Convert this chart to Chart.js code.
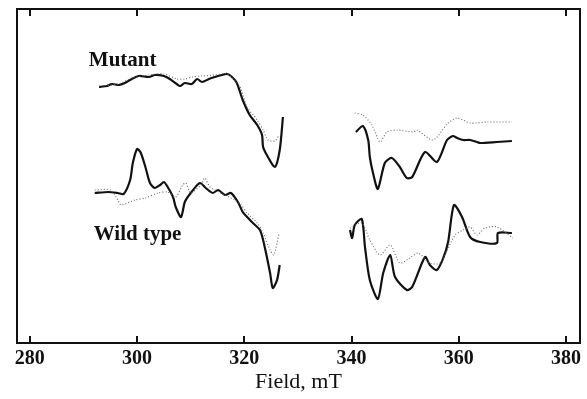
<!DOCTYPE html>
<html>
<head>
<meta charset="utf-8">
<script src="https://cdn.jsdelivr.net/npm/chart.js@4/dist/chart.umd.min.js"></script>
<style>
  html, body { margin: 0; padding: 0; background: #fff; }
  #wrap { width: 587px; height: 399px; }
</style>
</head>
<body>
<div id="wrap"><canvas id="eprChart" width="587" height="399"></canvas></div>
<script>
var eprCanv = document.getElementById("eprChart");

// field axis (mT)
var xTicks = [280, 300, 320, 340, 360, 380];

// Mutant, low-field part
var mutLeftField = [292.9, 294.4, 295.3, 296.6, 297.7, 299.0, 300.3, 302.2, 303.3, 305.0, 306.1, 307.4, 308.0, 308.9, 310.2, 311.2, 312.1, 313.4, 314.5, 315.8, 316.8, 317.7, 318.6, 319.7, 321.0, 322.4, 323.3, 323.5, 324.4, 325.7, 326.6, 327.2];
var mutLeftSolid = [256, 257, 259, 258, 260, 264, 267, 266, 268, 267, 264, 259, 257, 260, 259, 264, 261, 264, 266, 268, 269, 266, 260, 243, 228, 218, 208, 196, 186, 176, 193, 226];
var mutLeftDotField = [292.9, 296.6, 299.0, 302.2, 305.0, 307.4, 308.9, 310.2, 312.1, 314.5, 316.8, 319.2, 320.5, 322.4, 323.5, 324.4, 325.7, 326.5];
var mutLeftDot = [257, 259, 265, 268, 269, 264, 264, 266, 267, 268, 269, 256, 236, 223, 213, 203, 202, 208];

// Mutant, high-field part
var mutRightField = [340.8, 342.1, 343.1, 343.4, 344.0, 344.9, 346.2, 347.5, 349.0, 350.3, 351.3, 353.7, 355.9, 357.8, 358.9, 359.7, 360.8, 362.1, 363.4, 364.0, 367.1, 369.9];
var mutRightSolid = [211, 217, 203, 186, 170, 154, 180, 185, 176, 165, 166, 191, 181, 203, 207, 205, 203, 203, 201, 200, 201, 202];
var mutRightDotField = [340.6, 342.1, 343.8, 345.3, 346.6, 348.5, 351.5, 352.2, 355.2, 358.0, 359.7, 362.1, 365.3, 369.9];
var mutRightDot = [230, 228, 218, 201, 211, 213, 211, 213, 203, 220, 225, 220, 221, 221];

// Wild type, low-field part
var wtLeftField = [292.1, 294.6, 296.4, 297.5, 298.7, 299.2, 300.0, 300.7, 301.6, 302.4, 303.3, 304.3, 305.0, 305.7, 306.7, 307.2, 308.2, 308.9, 310.0, 311.7, 312.8, 314.1, 315.1, 316.4, 317.5, 318.8, 319.7, 320.7, 321.6, 322.9, 323.5, 324.2, 324.8, 325.3, 326.1, 326.6];
var wtLeftSolid = [150, 151, 150, 149, 163, 180, 194, 190, 175, 160, 155, 158, 161, 156, 146, 136, 126, 141, 150, 160, 155, 150, 153, 148, 150, 141, 131, 125, 120, 113, 103, 86, 70, 55, 63, 78];
var wtLeftDotField = [292.1, 295.1, 296.4, 297.0, 299.6, 301.5, 303.9, 305.7, 307.2, 308.5, 309.1, 310.0, 311.9, 312.6, 313.6, 315.6, 318.2, 319.4, 320.5, 322.4, 323.5, 324.8, 325.5, 326.5];
var wtLeftDot = [153, 153, 143, 138, 143, 145, 150, 151, 146, 158, 160, 150, 158, 165, 156, 150, 143, 138, 130, 120, 110, 93, 88, 110];

// Wild type, high-field part
var wtRightField = [339.7, 340.1, 340.6, 341.9, 342.5, 343.4, 344.9, 345.9, 347.2, 348.1, 350.3, 351.3, 353.7, 354.6, 355.9, 357.1, 358.0, 359.1, 360.6, 362.1, 364.0, 367.1, 367.3, 369.9];
var wtRightSolid = [113, 105, 118, 124, 96, 63, 44, 70, 88, 66, 53, 56, 86, 78, 73, 85, 101, 138, 126, 106, 101, 100, 110, 110];
var wtRightDotField = [339.7, 341.9, 343.4, 345.3, 347.2, 349.0, 350.9, 352.4, 354.6, 356.5, 359.3, 360.8, 362.1, 363.4, 364.9, 367.1, 370.1];
var wtRightDot = [115, 120, 103, 88, 98, 80, 85, 90, 80, 80, 108, 113, 116, 108, 115, 116, 105];

function pts(xs, ys) {
  return xs.map(function (x, i) { return { x: x, y: ys[i] }; });
}

function solid(label, xs, ys) {
  return { label: label, data: pts(xs, ys), borderColor: "#111", borderWidth: 2.2,
    pointRadius: 0, tension: 0.25, fill: false };
}
function dotted(label, xs, ys) {
  return { label: label, data: pts(xs, ys), borderColor: "#666", borderWidth: 1.1,
    borderDash: [1, 2], pointRadius: 0, tension: 0.25, fill: false };
}

// frame with inward ticks plus the two spectrum names
var framePlugin = {
  id: "frame",
  afterDraw: function (chart) {
    var ctx = chart.ctx, a = chart.chartArea, xs = chart.scales.x, ys = chart.scales.y;
    ctx.save();
    ctx.strokeStyle = "#111";
    ctx.lineWidth = 2;
    ctx.strokeRect(a.left, a.top, a.right - a.left, a.bottom - a.top);
    xTicks.forEach(function (v) {
      var px = Math.round(xs.getPixelForValue(v));
      ctx.beginPath();
      ctx.moveTo(px, a.bottom); ctx.lineTo(px, a.bottom - 7);
      ctx.moveTo(px, a.top); ctx.lineTo(px, a.top + 7);
      ctx.stroke();
    });
    ctx.fillStyle = "#111";
    ctx.font = "bold 21px 'Liberation Serif'";
    ctx.textBaseline = "alphabetic";
    ctx.fillText("Mutant", xs.getPixelForValue(291.0), ys.getPixelForValue(277));
    ctx.fillText("Wild type", xs.getPixelForValue(291.9), ys.getPixelForValue(103));
    ctx.restore();
  }
};

var eprPlot = new Chart(eprCanv, {
  type: "line",
  data: {
    datasets: [
      dotted("Mutant low (control)", mutLeftDotField, mutLeftDot),
      solid("Mutant low", mutLeftField, mutLeftSolid),
      dotted("Mutant high (control)", mutRightDotField, mutRightDot),
      solid("Mutant high", mutRightField, mutRightSolid),
      dotted("Wild type low (control)", wtLeftDotField, wtLeftDot),
      solid("Wild type low", wtLeftField, wtLeftSolid),
      dotted("Wild type high (control)", wtRightDotField, wtRightDot),
      solid("Wild type high", wtRightField, wtRightSolid)
    ]
  },
  options: {
    responsive: false,
    animation: false,
    layout: { padding: { left: 17, right: 7, top: 9, bottom: 0 } },
    plugins: { legend: { display: false }, tooltip: { enabled: false } },
    scales: {
      x: {
        type: "linear",
        min: 277.6,
        max: 382.6,
        afterBuildTicks: function (axis) {
          axis.ticks = xTicks.map(function (v) { return { value: v }; });
        },
        afterFit: function (axis) { axis.height = 56; },
        grid: { display: false, drawTicks: false },
        border: { display: false },
        ticks: {
          color: "#111",
          padding: 4,
          maxRotation: 0,
          font: { family: "'Liberation Serif'", size: 20, weight: "bold" }
        },
        title: {
          display: true,
          text: "Field, mT",
          color: "#111",
          padding: { top: 0, bottom: 4 },
          font: { family: "'Liberation Serif'", size: 22 }
        }
      },
      y: { display: false, min: 0, max: 334 }
    }
  },
  plugins: [framePlugin]
});
</script>
</body>
</html>
